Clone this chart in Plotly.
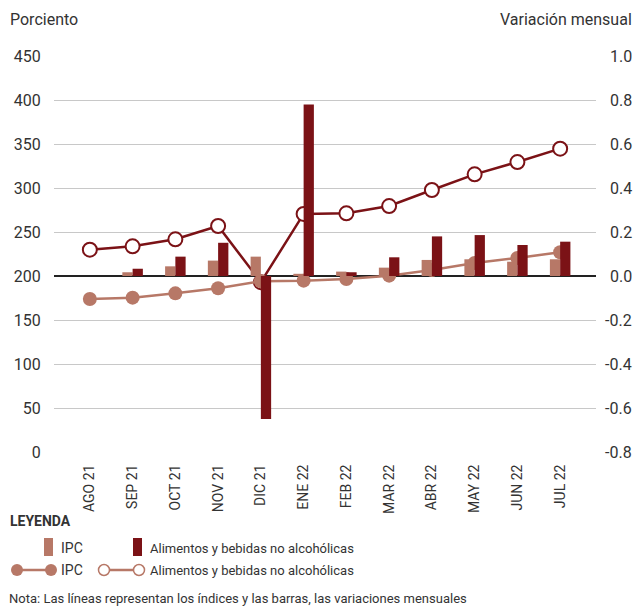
import plotly.graph_objects as go

months = ["AGO 21", "SEP 21", "OCT 21", "NOV 21", "DIC 21", "ENE 22",
          "FEB 22", "MAR 22", "ABR 22", "MAY 22", "JUN 22", "JUL 22"]
# monthly variations (bars, right axis)
ipc_var = [0.0, 0.017, 0.044, 0.07, 0.088, 0.01, 0.02, 0.038, 0.073, 0.076, 0.065, 0.076]
alim_var = [0.0, 0.033, 0.088, 0.151, -0.65, 0.78, 0.017, 0.085, 0.18, 0.186, 0.141, 0.156]
# indices (lines, left axis)
ipc_idx = [173.9, 175.4, 180.3, 186.0, 194.0, 194.7, 196.6, 200.4, 206.8, 214.8, 220.5, 227.0]
alim_idx = [229.9, 233.7, 241.7, 256.8, 193.0, 270.5, 271.2, 279.5, 297.7, 315.5, 329.5, 344.7]

left_ticks = [0, 50, 100, 150, 200, 250, 300, 350, 400, 450]
right_ticks = [-0.8, -0.6, -0.4, -0.2, 0.0, 0.2, 0.4, 0.6, 0.8, 1.0]

C_IPC = "#b77867"
C_ALI = "#7b1216"
TXT = "#333333"
FONT = "Roboto, sans-serif"

W, H = 636, 607
ML, MR, MT, MB = 54, 40, 56, 155
PW, PH = W - ML - MR, H - MT - MB


def px(x):
    return (x - ML) / PW


def py(y):
    return (H - MB - y) / PH


fig = go.Figure()
fig.add_trace(go.Bar(x=months, y=ipc_var, yaxis="y2", marker_color=C_IPC,
                     marker_line_width=0, name="IPC"))
fig.add_trace(go.Bar(x=months, y=alim_var, yaxis="y2", marker_color=C_ALI,
                     marker_line_width=0, name="Alimentos y bebidas no alcohólicas"))
fig.add_trace(go.Scatter(x=months, y=alim_idx, mode="lines+markers",
                         line=dict(color=C_ALI, width=2.5),
                         marker=dict(size=14, color="white", line=dict(color=C_ALI, width=2)),
                         name="Alimentos y bebidas no alcohólicas"))
fig.add_trace(go.Scatter(x=months, y=ipc_idx, mode="lines+markers",
                         line=dict(color=C_IPC, width=2.5),
                         marker=dict(size=14, color=C_IPC),
                         name="IPC"))

fig.update_layout(
    width=W, height=H,
    margin=dict(l=ML, r=MR, t=MT, b=MB),
    paper_bgcolor="white", plot_bgcolor="white",
    showlegend=False,
    barmode="group", bargap=0.52, bargroupgap=0,
    font=dict(family=FONT, color=TXT, size=16),
    xaxis=dict(tickangle=-90, showgrid=False, showline=False, ticks="outside",
               ticklen=6, tickcolor="rgba(0,0,0,0)",
               tickfont=dict(size=14, color=TXT)),
    yaxis=dict(range=[0, 450], tickvals=left_ticks, showgrid=True,
               gridcolor="#c8c8c8", gridwidth=1, zeroline=False,
               ticks="outside", ticklen=9, tickcolor="rgba(0,0,0,0)",
               tickfont=dict(size=16, color=TXT)),
    yaxis2=dict(range=[-0.8, 1.0], overlaying="y", side="right",
                tickvals=right_ticks, showticklabels=False, showgrid=False,
                zeroline=True, zerolinecolor="#222222", zerolinewidth=1.5),
)

# right axis labels (right aligned)
for v in right_ticks:
    fig.add_annotation(x=px(634), xref="paper", y=v, yref="y2", text=f"{v:.1f}",
                       showarrow=False, xanchor="right", yanchor="middle",
                       font=dict(size=16, color=TXT))

# axis titles
fig.add_annotation(x=px(8), xref="paper", y=py(19), yref="paper", text="Porciento",
                   showarrow=False, xanchor="left", yanchor="middle", font=dict(size=16, color=TXT))
fig.add_annotation(x=px(634), xref="paper", y=py(19), yref="paper", text="Variación mensual",
                   showarrow=False, xanchor="right", yanchor="middle", font=dict(size=16, color=TXT))

# legend
fig.add_annotation(x=px(8), xref="paper", y=py(521), yref="paper", text="<b>LEYENDA</b>",
                   showarrow=False, xanchor="left", yanchor="middle", font=dict(size=14, color=TXT))
fig.add_shape(type="rect", xref="paper", yref="paper", x0=px(44), x1=px(53), y0=py(556), y1=py(538),
              fillcolor=C_IPC, line_width=0)
fig.add_shape(type="rect", xref="paper", yref="paper", x0=px(133), x1=px(142), y0=py(556), y1=py(538),
              fillcolor=C_ALI, line_width=0)
fig.add_annotation(x=px(59), xref="paper", y=py(548), yref="paper", text="IPC",
                   showarrow=False, xanchor="left", yanchor="middle", font=dict(size=14, color=TXT))
fig.add_annotation(x=px(148), xref="paper", y=py(548), yref="paper", text="Alimentos y bebidas no alcohólicas",
                   showarrow=False, xanchor="left", yanchor="middle", font=dict(size=13, color=TXT))
# line legend entries
fig.add_shape(type="line", xref="paper", yref="paper", x0=px(17), x1=px(51), y0=py(570), y1=py(570),
              line=dict(color=C_IPC, width=2.5))
for cx in (17, 51):
    fig.add_shape(type="circle", xref="paper", yref="paper", x0=px(cx - 6), x1=px(cx + 6),
                  y0=py(576), y1=py(564), fillcolor=C_IPC, line_width=0)
fig.add_shape(type="line", xref="paper", yref="paper", x0=px(104), x1=px(139), y0=py(570), y1=py(570),
              line=dict(color=C_IPC, width=2.5))
for cx in (104, 139):
    fig.add_shape(type="circle", xref="paper", yref="paper", x0=px(cx - 5.5), x1=px(cx + 5.5),
                  y0=py(575.5), y1=py(564.5), fillcolor="white", line=dict(color=C_IPC, width=1.5))
fig.add_annotation(x=px(59), xref="paper", y=py(570), yref="paper", text="IPC",
                   showarrow=False, xanchor="left", yanchor="middle", font=dict(size=14, color=TXT))
fig.add_annotation(x=px(148), xref="paper", y=py(570), yref="paper", text="Alimentos y bebidas no alcohólicas",
                   showarrow=False, xanchor="left", yanchor="middle", font=dict(size=13, color=TXT))
fig.add_annotation(x=px(7), xref="paper", y=py(598), yref="paper",
                   text="Nota: Las líneas representan los índices y las barras, las variaciones mensuales",
                   showarrow=False, xanchor="left", yanchor="middle", font=dict(size=13, color=TXT))

fig.write_html("out.html", config={"displayModeBar": False},
               post_script="document.body.style.margin='0';document.body.style.overflow='hidden';")
